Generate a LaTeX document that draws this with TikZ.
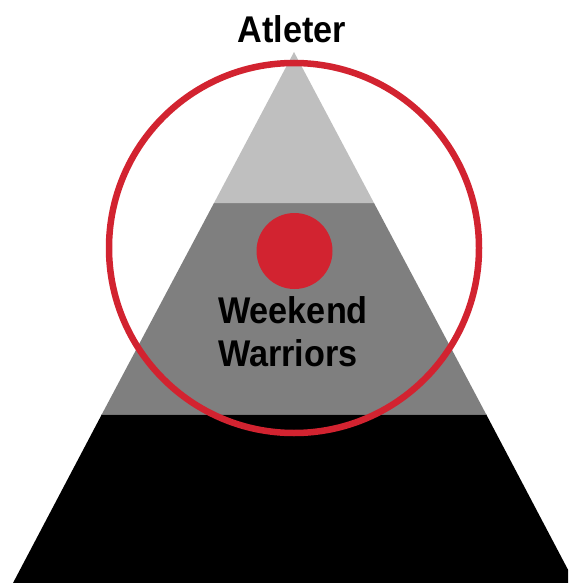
\documentclass[tikz,border=0pt]{standalone}
\usepackage{fontspec}
\setmainfont[FakeStretch=0.92]{Liberation Sans}
\definecolor{pyrred}{RGB}{210,35,48}
\definecolor{lightlayer}{RGB}{191,191,191}
\definecolor{midlayer}{RGB}{127,127,127}
\begin{document}
\begin{tikzpicture}[x=1pt,y=-1pt,
  lbl/.style={inner sep=0pt,font=\fontsize{37.2}{43}\selectfont\bfseries,text=black}]
\useasboundingbox (0,0) rectangle (568,583);
\clip (0,0) rectangle (568,583);
% pyramid layers
\fill[black] (102,414) -- (486,414) -- (575,583) -- (13,583) -- cycle;
\fill[midlayer] (214,203) -- (374,203) -- (486,414) -- (102,414) -- cycle;
\fill[lightlayer] (294,52) -- (374,203) -- (214,203) -- cycle;
\draw[black!55,line width=0.8pt] (102,414) -- (486,414);
% circles
\draw[pyrred,line width=6.5pt] (294,248) circle[radius=185];
\fill[pyrred] (294.5,251) circle[radius=38];
% labels
\node[lbl,anchor=base] (top) at (292,43) {Atleter};
\node[lbl,anchor=base west] (ww1) at (218,323) {Weekend};
\node[lbl,anchor=base west] (ww2) at (218,366) {Warriors};
\end{tikzpicture}
\end{document}
